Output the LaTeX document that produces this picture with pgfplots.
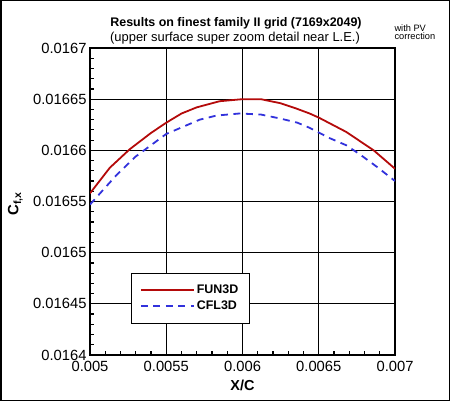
\documentclass[border=0pt]{standalone}
\usepackage{fontspec}
\setmainfont{Liberation Sans}
\usepackage{pgfplots}
\pgfplotsset{compat=1.18}
\definecolor{funred}{RGB}{180,10,10}
\definecolor{cflblue}{RGB}{50,50,220}
\begin{document}
\begin{tikzpicture}[x=1bp,y=1bp]
\draw[line width=1.5bp] (0.75,0.75) rectangle (449.25,400.25);
\node[font=\fontsize{12.5}{13}\selectfont\bfseries] at (236,377.5) {Results on finest family II grid (7169x2049)};
\node[font=\fontsize{13}{13}\selectfont] at (235,362.5) {(upper surface super zoom detail near L.E.)};
\node[font=\fontsize{9.3}{9}\selectfont, align=left, anchor=west] at (391,369) {with PV\\[-1pt]correction};
\begin{axis}[
  at={(90bp,46bp)}, anchor=south west,
  scale only axis, width=305bp, height=307bp,
  xmin=0.005, xmax=0.007, ymin=0.0164, ymax=0.0167,
  scaled ticks=false,
  xtick={0.005,0.0055,0.006,0.0065,0.007},
  xticklabels={0.005,0.0055,0.006,0.0065,0.007},
  ytick={0.0164,0.01645,0.0165,0.01655,0.0166,0.01665,0.0167},
  yticklabels={0.0164,0.01645,0.0165,0.01655,0.0166,0.01665,0.0167},
  minor x tick num=4, minor y tick num=4,
  tick pos=left, tick align=inside,
  major tick length=7bp, minor tick length=4bp,
  every tick/.style={black, line width=1.2bp},
  grid=major, major grid style={black, line width=1.2bp},
  axis line style={line width=1.6bp},
  ticklabel style={font=\fontsize{14.8}{15}\selectfont},
  xticklabel style={yshift=-2.5bp},
  /pgf/number format/assume math mode=true,
  xlabel={X/C}, ylabel={C\textsubscript{f,x}},
  xlabel style={font=\fontsize{14.5}{14}\selectfont\bfseries, at={(axis description cs:0.5,-0.098)}, anchor=center},
  ylabel style={font=\fontsize{15}{15}\selectfont\bfseries, at={(axis description cs:-0.245,0.492)}, anchor=center, rotate=0},
  legend style={at={(axis description cs:0.133,0.268)}, anchor=north west, draw=black, line width=0.9bp, fill=white,
    font=\fontsize{12.5}{12}\selectfont\bfseries, inner xsep=9bp, inner ysep=10bp, row sep=1.5bp},
  legend cell align=left,
  legend image code/.code={\draw[#1] (0bp,0bp) -- (53bp,0bp);},
]
\addplot[funred, line width=1.8bp] coordinates {
(0.005,0.016558) (0.00513,0.016583) (0.00526,0.016601) (0.0054,0.016617)
(0.0055,0.016627) (0.0056,0.016636) (0.0057,0.016642) (0.00585,0.016648)
(0.006,0.01665) (0.00612,0.01665) (0.00625,0.016646) (0.00635,0.016641)
(0.00644,0.016636) (0.0065,0.016632) (0.00668,0.016618) (0.00686,0.0166)
(0.007,0.016582)};
\addlegendentry{FUN3D}
\addplot[cflblue, line width=1.8bp, dash pattern=on 7bp off 5.5bp] coordinates {
(0.005,0.016547) (0.00509,0.016562) (0.005175,0.016576) (0.0053,0.016594)
(0.0054,0.016605) (0.0055,0.016616) (0.00561,0.016623) (0.00572,0.01663)
(0.00583,0.016634) (0.00598,0.016636) (0.00612,0.016635) (0.00625,0.016631)
(0.00636,0.016627) (0.00644,0.016622) (0.00657,0.016612) (0.00668,0.016605)
(0.00677,0.016596) (0.00688,0.016584) (0.007,0.01657)};
\addlegendentry{CFL3D}
\end{axis}
\end{tikzpicture}
\end{document}
